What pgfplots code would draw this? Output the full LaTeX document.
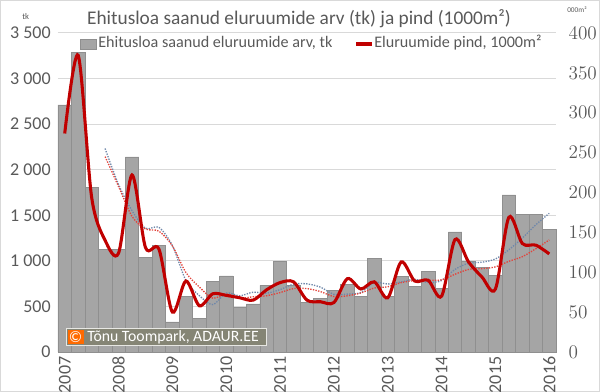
\documentclass[border=0pt]{standalone}
\usepackage{pgfplots}
\pgfplotsset{compat=1.18}
\usepackage{fontspec}
\setmainfont{Carlito}
\definecolor{txt}{HTML}{595959}
\definecolor{barc}{HTML}{A5A5A5}
\definecolor{baredge}{HTML}{8F8F8F}
\definecolor{redl}{HTML}{C00000}
\definecolor{gridc}{HTML}{D9D9D9}
\definecolor{bluet}{HTML}{6F88AA}
\definecolor{redt}{HTML}{E2443C}
\definecolor{wm}{HTML}{858575}
\definecolor{orng}{HTML}{FF6A00}
\begin{document}
\begin{tikzpicture}[x=0.75pt,y=0.75pt]
\useasboundingbox (0,0) rectangle (600,392);
\draw[gridc, line width=0.75pt] (0.5,0.5) rectangle (599.5,391.5);
\begin{axis}[
  at={(43.5pt,30pt)}, anchor=south west, scale only axis,
  width=373.5pt, height=239.25pt,
  xmin=0.5, xmax=37.5, ymin=0, ymax=3500,
  axis x line*=bottom, axis y line*=left,
  x axis line style={draw=gridc, line width=0.75pt, -},
  y axis line style={draw=none},
  ytick={0,500,...,3500},
  yticklabels={0,500,{1 000},{1 500},{2 000},{2 500},{3 000},{3 500}},
  ymajorgrids, grid style={gridc, line width=0.75pt},
  xtick={1,5,...,37},
  xticklabels={2007,2008,2009,2010,2011,2012,2013,2014,2015,2016},
  x tick label style={rotate=90, anchor=east, xshift=0pt},
  major tick length=0pt,
  tick style={draw=none},
  ticklabel style={font=\fontsize{13.5}{14}\selectfont, text=txt},
  yticklabel style={xshift=-2pt},
  clip=false,
]
\addplot[ybar, bar width=1, fill=barc, draw=baredge, line width=0.5pt] coordinates {
(1,2710) (2,3290) (3,1805) (4,1125) (5,1130) (6,2140) (7,1035) (8,1165)
(9,330) (10,612) (11,367) (12,772) (13,834) (14,491) (15,527) (16,730)
(17,990) (18,730) (19,540) (20,585) (21,676) (22,739) (23,610) (24,1025)
(25,610) (26,830) (27,724) (28,885) (29,698) (30,1318) (31,995) (32,930)
(33,840) (34,1723) (35,1510) (36,1510) (37,1345)};
\addplot[bluet, densely dotted, line width=1pt, smooth, mark=none] coordinates {
(4,2232.5) (5,1837.5) (6,1550) (7,1357.5) (8,1367.5) (9,1167.5) (10,785.5)
(11,618.5) (12,520.25) (13,646.25) (14,616) (15,656) (16,645.5) (17,684.5)
(18,744.25) (19,747.5) (20,711.25) (21,632.75) (22,635) (23,652.5) (24,762.5)
(25,746) (26,768.75) (27,797.25) (28,762.25) (29,784.25) (30,906.25) (31,974)
(32,985.25) (33,1020.75) (34,1122) (35,1250.75) (36,1395.75) (37,1522)};
\end{axis}
\begin{axis}[
  at={(43.5pt,30pt)}, anchor=south west, scale only axis,
  width=373.5pt, height=239.25pt,
  xmin=0.5, xmax=37.5, ymin=0, ymax=400,
  axis x line=none, axis y line*=right,
  y axis line style={draw=none},
  ytick={0,50,...,400},
  major tick length=0pt,
  tick style={draw=none},
  ticklabel style={font=\fontsize{13.5}{14}\selectfont, text=txt},
  yticklabel style={anchor=west, xshift=6pt},
  clip=false,
]
\addplot[redt, densely dotted, line width=1pt, smooth, mark=none] coordinates {
(4,245) (5,207.5) (6,170) (7,154.25) (8,151.5) (9,133) (10,99.75) (11,81.5)
(12,67.5) (13,72.75) (14,67.5) (15,69.25) (16,70.5) (17,74.5) (18,79.5)
(19,79.5) (20,75.75) (21,69.5) (22,70.5) (23,74) (24,80.25) (25,81.75)
(26,87) (27,89.5) (28,90) (29,90.5) (30,97.5) (31,103.5) (32,104.5)
(33,106.75) (34,113.75) (35,119.5) (36,129.5) (37,140.5)};
\addplot[redl, line width=2.3pt, smooth, mark=none] coordinates {
(1,274) (2,372) (3,194) (4,140) (5,124) (6,222) (7,131) (8,129)
(9,50) (10,89) (11,58) (12,73) (13,71) (14,68) (15,65) (16,78)
(17,87) (18,88) (19,65) (20,63) (21,62) (22,92) (23,79) (24,88)
(25,68) (26,113) (27,89) (28,90) (29,70) (30,141) (31,113) (32,94)
(33,79) (34,169) (35,136) (36,134) (37,123)};
\end{axis}
% title
\node[anchor=base, text=txt, font=\fontsize{14.5}{16}\selectfont, inner sep=0pt] at (299,367) {Ehitusloa saanud eluruumide arv (tk) ja pind (1000m²)};
% axis unit labels
\node[anchor=base west, text=txt, font=\fontsize{6.5}{7}\selectfont, inner sep=0pt] at (22,372) {tk};
\node[anchor=base west, text=txt, font=\fontsize{5.5}{6}\selectfont, inner sep=0pt] at (567,379) {000m²};
% legend
\fill[barc, draw=baredge, line width=0.5pt] (80,343) rectangle (96,353);
\node[anchor=base west, text=txt, font=\fontsize{12.1}{13}\selectfont, inner sep=0pt] at (98,344) {Ehitusloa saanud eluruumide arv, tk};
\draw[redl, line width=2.3pt] (356,348) -- (372,348);
\node[anchor=base west, text=txt, font=\fontsize{12.1}{13}\selectfont, inner sep=0pt] at (374,344) {Eluruumide pind, 1000m²};
% watermark
\fill[wm, draw=white!80!wm, line width=0.75pt] (66,46) rectangle (266,63);
\fill[orng] (67.5,47.5) rectangle (84,61.5);
\node[text=white, font=\fontsize{12}{12}\selectfont, inner sep=0pt] at (75.5,54.5) {©};
\node[anchor=base west, text=white, font=\fontsize{11.8}{12}\selectfont, inner sep=0pt] at (87,50) {Tõnu Toompark, ADAUR.EE};
\end{tikzpicture}
\end{document}
